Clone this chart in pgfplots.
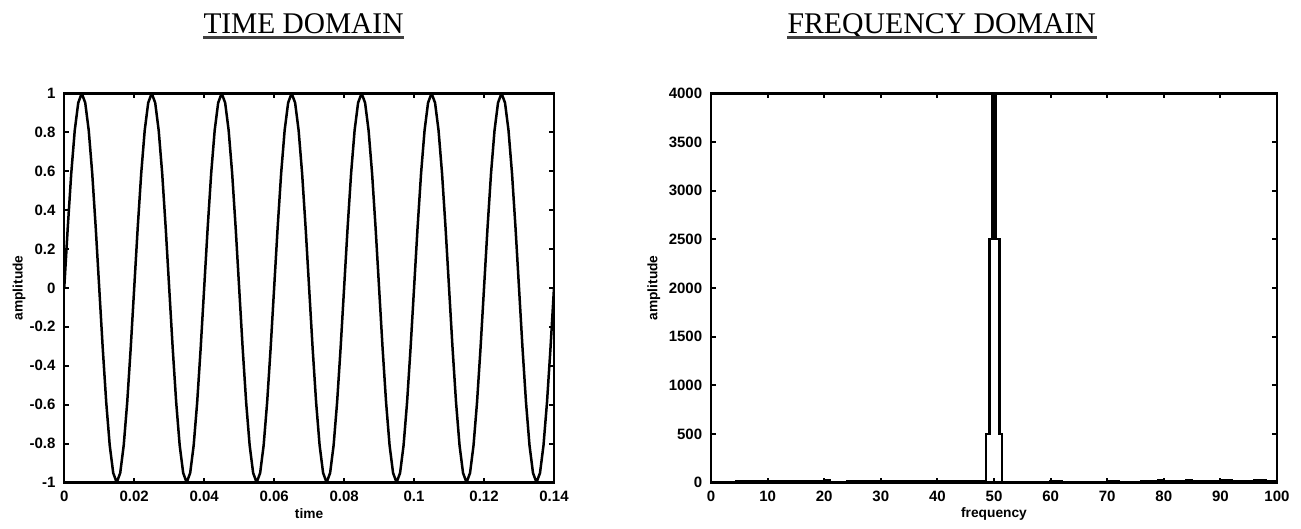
\documentclass[border=0pt]{standalone}
\usepackage{fontspec}
\setmainfont{Liberation Serif}
\setsansfont{Liberation Sans}
\usepackage{graphicx}
\usepackage{pgfplots}
\pgfplotsset{compat=1.18}

\pgfplotsset{
  mat/.style={
    scale only axis, height=155.7pt, anchor=south west,
    axis line style={line width=1pt},
    tick align=inside, tick pos=both, major tick length=2pt,
    tick style={line width=0.8pt, black},
    scaled ticks=false,
    tick label style={font=\fontsize{6}{7}\sffamily\bfseries\selectfont},
    label style={font=\fontsize{5.5}{6.5}\sffamily\bfseries\selectfont},
    xlabel style={at={(axis description cs:0.5,-0.081)}, anchor=center},
  },
}

\begin{document}
\begin{tikzpicture}
\path (0,0) rectangle (520.4pt,-208.8pt);

% titles
\node[anchor=base, inner sep=0pt, font=\fontsize{12}{14}\selectfont] (t1) at (121.4pt,-13.2pt) {\resizebox{80pt}{\height}{TIME DOMAIN}};
\node[anchor=base, inner sep=0pt, font=\fontsize{12}{14}\selectfont] (t2) at (376.7pt,-13.2pt) {\resizebox{123.4pt}{\height}{FREQUENCY DOMAIN}};
\draw[line width=1.1pt, black!75] ([yshift=-1.7pt]t1.base west) -- ([yshift=-1.7pt]t1.base east);
\draw[line width=1.1pt, black!75] ([yshift=-1.7pt]t2.base west) -- ([yshift=-1.7pt]t2.base east);

% time domain
\begin{axis}[mat, at={(25.7pt,-193pt)}, width=195.9pt,
  xmin=0, xmax=0.14, ymin=-1, ymax=1,
  xtick={0,0.02,0.04,0.06,0.08,0.1,0.12,0.14},
  xticklabels={0,0.02,0.04,0.06,0.08,0.1,0.12,0.14},
  ytick={-1,-0.8,-0.6,-0.4,-0.2,0,0.2,0.4,0.6,0.8,1},
  yticklabels={-1,-0.8,-0.6,-0.4,-0.2,0,0.2,0.4,0.6,0.8,1},
  xlabel={time}, ylabel={amplitude},
  ylabel style={at={(axis description cs:-0.092,0.5)}, anchor=center},
]
\addplot[black, line width=1pt] coordinates {
(0,0) (0.001,0.309) (0.002,0.588) (0.003,0.809) (0.004,0.951) (0.005,1) (0.006,0.951) (0.007,0.809) (0.008,0.588) (0.009,0.309)
(0.010,0) (0.011,-0.309) (0.012,-0.588) (0.013,-0.809) (0.014,-0.951) (0.015,-1) (0.016,-0.951) (0.017,-0.809) (0.018,-0.588) (0.019,-0.309)
(0.020,0) (0.021,0.309) (0.022,0.588) (0.023,0.809) (0.024,0.951) (0.025,1) (0.026,0.951) (0.027,0.809) (0.028,0.588) (0.029,0.309)
(0.030,0) (0.031,-0.309) (0.032,-0.588) (0.033,-0.809) (0.034,-0.951) (0.035,-1) (0.036,-0.951) (0.037,-0.809) (0.038,-0.588) (0.039,-0.309)
(0.040,0) (0.041,0.309) (0.042,0.588) (0.043,0.809) (0.044,0.951) (0.045,1) (0.046,0.951) (0.047,0.809) (0.048,0.588) (0.049,0.309)
(0.050,0) (0.051,-0.309) (0.052,-0.588) (0.053,-0.809) (0.054,-0.951) (0.055,-1) (0.056,-0.951) (0.057,-0.809) (0.058,-0.588) (0.059,-0.309)
(0.060,0) (0.061,0.309) (0.062,0.588) (0.063,0.809) (0.064,0.951) (0.065,1) (0.066,0.951) (0.067,0.809) (0.068,0.588) (0.069,0.309)
(0.070,0) (0.071,-0.309) (0.072,-0.588) (0.073,-0.809) (0.074,-0.951) (0.075,-1) (0.076,-0.951) (0.077,-0.809) (0.078,-0.588) (0.079,-0.309)
(0.080,0) (0.081,0.309) (0.082,0.588) (0.083,0.809) (0.084,0.951) (0.085,1) (0.086,0.951) (0.087,0.809) (0.088,0.588) (0.089,0.309)
(0.090,0) (0.091,-0.309) (0.092,-0.588) (0.093,-0.809) (0.094,-0.951) (0.095,-1) (0.096,-0.951) (0.097,-0.809) (0.098,-0.588) (0.099,-0.309)
(0.100,0) (0.101,0.309) (0.102,0.588) (0.103,0.809) (0.104,0.951) (0.105,1) (0.106,0.951) (0.107,0.809) (0.108,0.588) (0.109,0.309)
(0.110,0) (0.111,-0.309) (0.112,-0.588) (0.113,-0.809) (0.114,-0.951) (0.115,-1) (0.116,-0.951) (0.117,-0.809) (0.118,-0.588) (0.119,-0.309)
(0.120,0) (0.121,0.309) (0.122,0.588) (0.123,0.809) (0.124,0.951) (0.125,1) (0.126,0.951) (0.127,0.809) (0.128,0.588) (0.129,0.309)
(0.130,0) (0.131,-0.309) (0.132,-0.588) (0.133,-0.809) (0.134,-0.951) (0.135,-1) (0.136,-0.951) (0.137,-0.809) (0.138,-0.588) (0.139,-0.309)
(0.140,0)
};
\end{axis}

% frequency domain
\begin{axis}[mat, at={(284.4pt,-193pt)}, width=226.4pt,
  xmin=0, xmax=100, ymin=0, ymax=4000,
  xtick={0,10,20,30,40,50,60,70,80,90,100},
  xticklabels={0,10,20,30,40,50,60,70,80,90,100},
  ytick={0,500,1000,1500,2000,2500,3000,3500,4000},
  yticklabels={0,500,1000,1500,2000,2500,3000,3500,4000},
  xlabel={frequency}, ylabel={amplitude},
  ylabel style={at={(axis description cs:-0.101,0.5)}, anchor=center},
]
\addplot[black, line width=1pt, const plot] coordinates {
(0,0) (4.5,10) (10,18) (12,10) (17,15) (20,20) (21,5) (24,12) (30,16) (32,10)
(36,12) (40,14) (42,8) (48,8)
(48.6,500) (49.2,2500) (49.75,4500) (50.25,2500) (50.95,500) (51.4,5)
(60,10) (62,6) (70,12) (72,6) (74,2) (76,12) (78,16) (79,24) (80,18) (82,12) (84,20)
(85,14) (88,18) (90,24) (92,10) (94,16) (96,22) (98,14) (100,18)
};
\end{axis}
\end{tikzpicture}
\end{document}
